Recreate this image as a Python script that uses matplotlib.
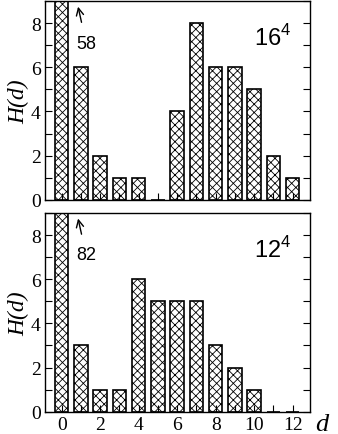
import matplotlib
matplotlib.use('Agg')
import matplotlib.pyplot as plt
from matplotlib.ticker import MultipleLocator

# histogram data, d = 0..12
d = list(range(13))
h16 = [58, 6, 2, 1, 1, 0, 4, 8, 6, 6, 5, 2, 1]
h12 = [82, 3, 1, 1, 6, 5, 5, 5, 3, 2, 1, 0, 0]
labels = ['$16^4$', '$12^4$']

plt.rcParams['font.family'] = 'Liberation Serif'
plt.rcParams['hatch.linewidth'] = 0.6
plt.rcParams['mathtext.fontset'] = 'custom'
plt.rcParams['mathtext.rm'] = 'Liberation Sans'

fig = plt.figure(figsize=(3.38, 4.35), dpi=100)
ax1 = fig.add_axes([0.133, 0.5386, 0.783, 0.4564])
ax2 = fig.add_axes([0.133, 0.0513, 0.783, 0.4567])

for ax, h, lab in [(ax1, h16, labels[0]), (ax2, h12, labels[1])]:
    ax.bar(d, h, width=0.7, color='white', edgecolor='black', hatch='xxxx', linewidth=1.2)
    ax.set_xlim(-0.87, 12.88)
    ax.set_ylim(0, 9)
    ax.xaxis.set_major_locator(MultipleLocator(2))
    ax.xaxis.set_minor_locator(MultipleLocator(1))
    ax.yaxis.set_major_locator(MultipleLocator(2))
    ax.yaxis.set_minor_locator(MultipleLocator(1))
    ax.tick_params(which='both', direction='in', top=False, right=True, labelsize=14)
    ax.tick_params(which='major', length=5, width=0.8, pad=3)
    ax.tick_params(which='minor', length=5, width=0.8)
    for s in ax.spines.values():
        s.set_linewidth(1.0)
    ax.set_ylabel('H(d)', fontsize=17, family='Liberation Serif', style='italic', labelpad=1)
    ax.text(0.93, 0.82, lab, transform=ax.transAxes, ha='right', va='center',
            fontsize=17, family='Liberation Sans')
    ax.annotate(str(h[0]), xy=(0.85, 8.75), xytext=(1.27, 7.1), ha='center', va='center',
                fontsize=13, family='Liberation Sans',
                arrowprops=dict(arrowstyle='->', color='black', lw=1.0, shrinkA=7, shrinkB=0))

ax1.tick_params(labelbottom=False)
ax2.text(1.045, -0.06, 'd', transform=ax2.transAxes, ha='center', va='center',
         fontsize=19, style='italic', family='Liberation Serif')

fig.savefig('out.png', dpi=100)
